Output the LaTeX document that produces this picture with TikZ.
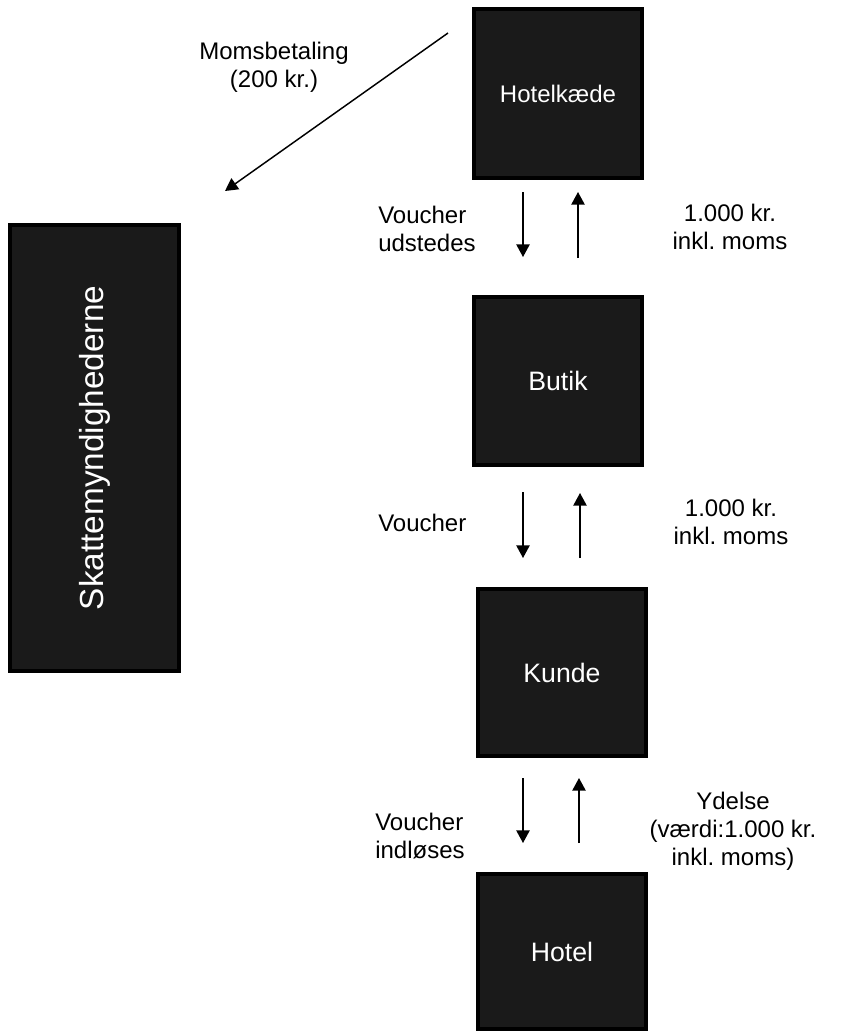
\documentclass[tikz,border=0pt]{standalone}
\usepackage{fontspec}
\setmainfont{Liberation Sans}
\usetikzlibrary{arrows.meta}
\definecolor{boxfill}{HTML}{1A1A1A}
\frenchspacing
\begin{document}
\begin{tikzpicture}[x=0.75pt,y=-0.75pt,
  box/.style={draw=black,line width=3pt,fill=boxfill,text=white,inner sep=0pt,
    font=\fontsize{20}{24}\selectfont},
  lbl/.style={inner sep=0pt,font=\fontsize{18}{21}\selectfont},
  flow/.style={line width=1.1pt,-{Triangle[width=10pt,length=9.5pt]}}]
  \useasboundingbox (0,0) rectangle (843,1033);
  \node[box,minimum width=126pt,minimum height=126.75pt,font=\fontsize{18}{21}\selectfont] (kaede) at (558,93.5) {Hotelkæde};
  \node[box,minimum width=126pt,minimum height=126pt] (butik) at (558,381) {Butik};
  \node[box,minimum width=126pt,minimum height=125.25pt] (kunde) at (562,672.5) {Kunde};
  \node[box,minimum width=126pt,minimum height=116.25pt] (hotel) at (562,951.5) {Hotel};
  \node[box,rotate=90,minimum width=334.5pt,minimum height=126.75pt,font=\fontsize{25}{30}\selectfont] (skat) at (94.5,448) {Skattemyndighederne};
  \coordinate (d1s) at (523,192);
  \coordinate (d1e) at (523,257);
  \coordinate (u1s) at (578,258);
  \coordinate (u1e) at (578,192);
  \coordinate (d2s) at (523,492);
  \coordinate (d2e) at (523,558);
  \coordinate (u2s) at (580,558);
  \coordinate (u2e) at (580,493);
  \coordinate (d3s) at (523,778);
  \coordinate (d3e) at (523,843);
  \coordinate (u3s) at (579,843);
  \coordinate (u3e) at (579,778);
  \coordinate (ms) at (448,33);
  \coordinate (me) at (225,191);
  \draw[flow] (d1s) -- (d1e);
  \draw[flow] (u1s) -- (u1e);
  \draw[flow] (d2s) -- (d2e);
  \draw[flow] (u2s) -- (u2e);
  \draw[flow] (d3s) -- (d3e);
  \draw[flow] (u3s) -- (u3e);
  \draw[flow] (ms) -- (me);
  \node[lbl,align=center] (moms) at (274,67) {Momsbetaling\\(200 kr.)};
  \node[lbl,align=left,anchor=west] (udst) at (378,229) {Voucher\\udstedes};
  \node[lbl,align=center] (pris1) at (730,227) {1.000 kr.\\inkl. moms};
  \node[lbl,anchor=west] (vouch) at (378,523) {Voucher};
  \node[lbl,align=center] (pris2) at (731,522) {1.000 kr.\\inkl. moms};
  \node[lbl,align=left,anchor=west] (indl) at (375,836) {Voucher\\indløses};
  \node[lbl,align=center] (ydel) at (733,831) {Ydelse\\(værdi:1.000 kr.\\inkl. moms)};
\end{tikzpicture}
\end{document}
